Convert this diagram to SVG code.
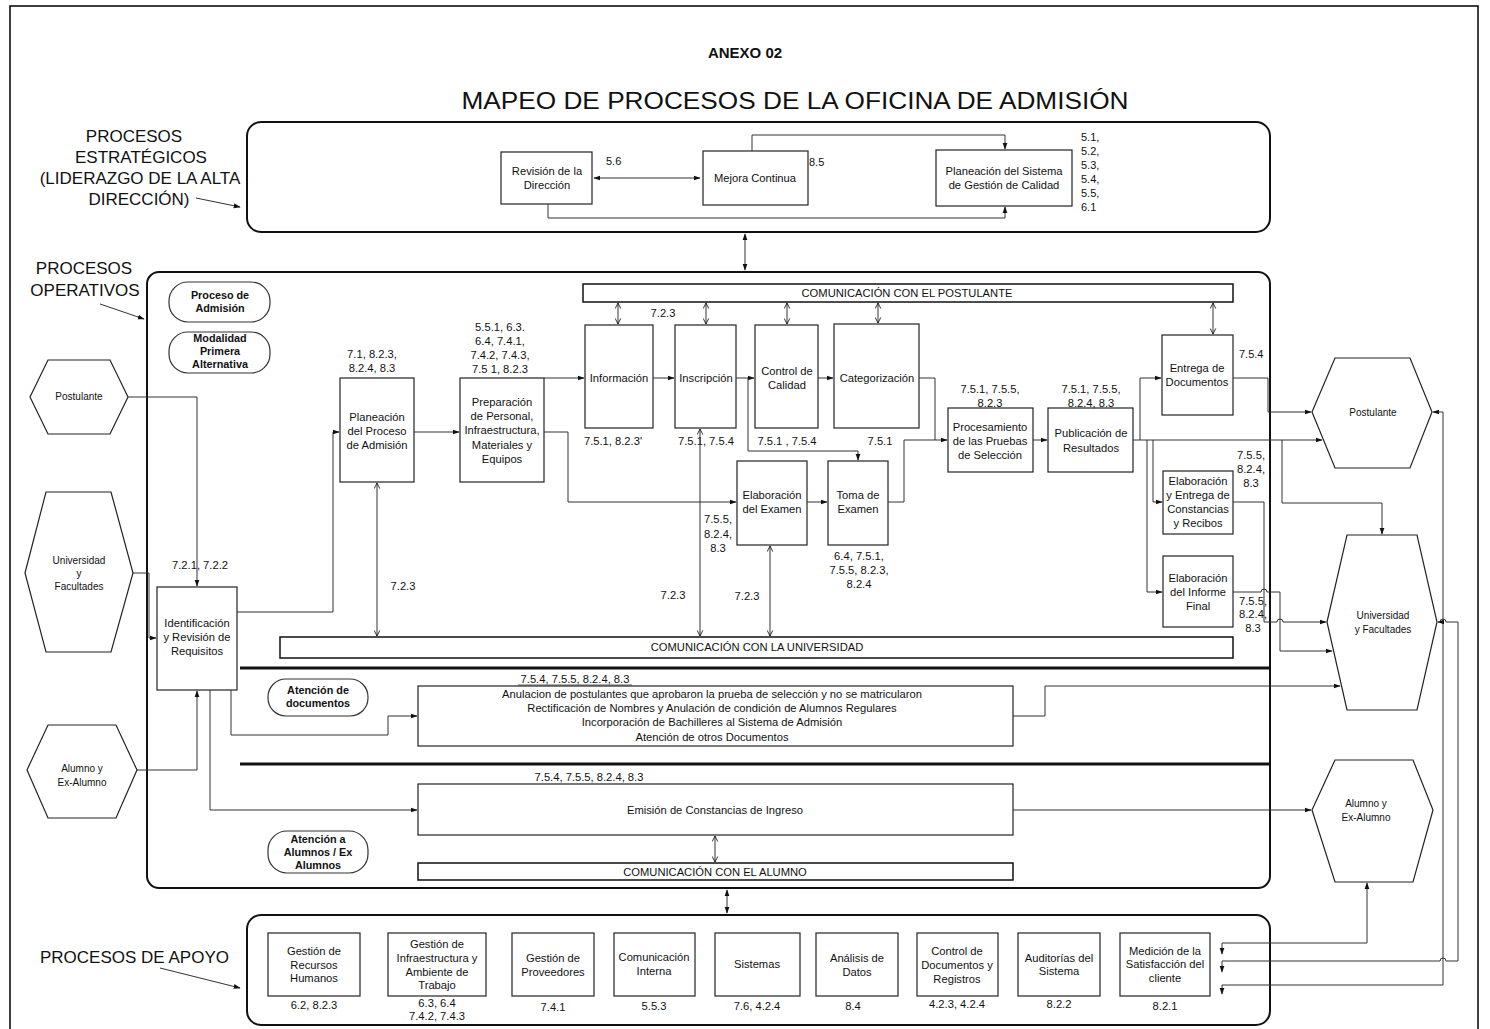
<svg xmlns="http://www.w3.org/2000/svg" width="1490" height="1029" viewBox="0 0 1490 1029">
<defs>
  <marker id="ah" viewBox="0 0 10 10" refX="9" refY="5" markerWidth="7" markerHeight="7" markerUnits="userSpaceOnUse" orient="auto-start-reverse">
    <path d="M0,1.5 L10,5 L0,8.5 z" fill="#111"/>
  </marker>
  <marker id="oh" viewBox="0 0 10 10" refX="9" refY="5" markerWidth="7" markerHeight="7" markerUnits="userSpaceOnUse" orient="auto-start-reverse">
    <path d="M1,1 L9,5 L1,9" fill="none" stroke="#111" stroke-width="1.2"/>
  </marker>
</defs>
<style>
  text{font-family:"Liberation Sans",Arial,sans-serif;fill:#111}
  .t{font-size:11.2px;text-anchor:middle}
  .s{font-size:10px;text-anchor:middle}
  .ls{font-size:11px;text-anchor:start}
  .p{font-size:10.8px;font-weight:bold;text-anchor:middle}
  .h{font-size:17px;text-anchor:middle}
  .box{fill:#fff;stroke:#222;stroke-width:1.2}
  .frame{fill:none;stroke:#111;stroke-width:2}
  .bar{fill:#fff;stroke:#111;stroke-width:1.5}
  .pill{fill:#fff;stroke:#333;stroke-width:1.2}
  .hex{fill:#fff;stroke:#222;stroke-width:1.2}
  .sep{stroke:#111;stroke-width:3}
  .c{fill:none;stroke:#333;stroke-width:1}
  .a{marker-end:url(#ah)}
  .aa{marker-start:url(#ah);marker-end:url(#ah)}
  .oo{marker-start:url(#oh);marker-end:url(#oh)}
</style>

<rect x="0" y="0" width="1490" height="1029" fill="#fff"/>
<rect x="10" y="6" width="1468" height="1040" fill="none" stroke="#000" stroke-width="1.5"/>

<!-- titles -->
<text x="745" y="58" font-size="15" font-weight="bold" text-anchor="middle">ANEXO 02</text>
<text x="795" y="109" font-size="24" text-anchor="middle" textLength="667" lengthAdjust="spacingAndGlyphs">MAPEO DE PROCESOS DE LA OFICINA DE ADMISIÓN</text>

<!-- side headings -->
<g id="titulo-estrategicos">
  <text class="h" x="134" y="142">PROCESOS</text>
  <text class="h" x="141" y="163">ESTRATÉGICOS</text>
  <text class="h" x="140" y="184">(LIDERAZGO DE LA ALTA</text>
  <text class="h" x="139" y="205">DIRECCIÓN)</text>
</g>
<g id="titulo-operativos">
  <text class="h" x="84" y="274">PROCESOS</text>
  <text class="h" x="85" y="296">OPERATIVOS</text>
</g>
<g id="titulo-apoyo">
  <text x="40" y="963" font-size="17">PROCESOS DE APOYO</text>
</g>

<!-- frames -->
<g id="marco-estrategicos"><rect class="frame" x="247" y="122" width="1023" height="110" rx="14"/></g>
<g id="marco-operativos"><rect class="frame" x="147" y="272" width="1123" height="616" rx="12"/></g>
<g id="marco-apoyo"><rect class="frame" x="247" y="915" width="1023" height="110" rx="14"/></g>

<!-- strategic processes -->
<g id="revision-direccion">
  <rect class="box" x="501" y="152" width="91" height="52"/>
  <text class="t" x="547" y="175">Revisión de la</text>
  <text class="t" x="547" y="189">Dirección</text>
  <text class="ls" x="606" y="165">5.6</text>
</g>
<g id="mejora-continua">
  <rect class="box" x="703" y="151" width="105" height="54"/>
  <text class="t" x="755" y="182">Mejora Continua</text>
  <text class="ls" x="809" y="166">8.5</text>
</g>
<g id="planeacion-sgc">
  <rect class="box" x="936" y="150" width="136" height="56"/>
  <text class="t" x="1004" y="175">Planeación del Sistema</text>
  <text class="t" x="1004" y="189">de Gestión de Calidad</text>
  <text class="ls" x="1081" y="141">5.1,</text>
  <text class="ls" x="1081" y="155">5.2,</text>
  <text class="ls" x="1081" y="169">5.3,</text>
  <text class="ls" x="1081" y="183">5.4,</text>
  <text class="ls" x="1081" y="197">5.5,</text>
  <text class="ls" x="1081" y="211">6.1</text>
</g>

<!-- operative: labels -->
<g id="proceso-admision">
  <rect class="pill" x="169" y="282" width="101" height="40" rx="19"/>
  <text class="p" x="220" y="299">Proceso de</text>
  <text class="p" x="220" y="312">Admisión</text>
</g>
<g id="modalidad">
  <rect class="pill" x="169" y="332" width="101" height="41" rx="19"/>
  <text class="p" x="220" y="342">Modalidad</text>
  <text class="p" x="220" y="355">Primera</text>
  <text class="p" x="220" y="368">Alternativa</text>
</g>
<g id="com-postulante">
  <rect class="bar" x="583" y="284" width="650" height="18"/>
  <text class="t" x="907" y="297">COMUNICACIÓN CON EL POSTULANTE</text>
</g>
<g id="com-universidad">
  <rect class="bar" x="280" y="637" width="953" height="21"/>
  <text class="t" x="757" y="651">COMUNICACIÓN CON LA UNIVERSIDAD</text>
</g>
<g id="com-alumno">
  <rect class="bar" x="418" y="863" width="595" height="17"/>
  <text class="t" x="715" y="876">COMUNICACIÓN CON EL ALUMNO</text>
</g>
<line class="sep" x1="240" y1="668" x2="1270" y2="668"/>
<line class="sep" x1="240" y1="764" x2="1270" y2="764"/>

<!-- external parties, left -->
<g id="postulante-in">
  <polygon class="hex" points="30,397 48,360 110,360 128,397 110,434 48,434"/>
  <text class="s" x="79" y="400">Postulante</text>
</g>
<g id="universidad-in">
  <polygon class="hex" points="25,573 46,492 111,492 133,573 111,652 46,652"/>
  <text class="s" x="79" y="564">Universidad</text>
  <text class="s" x="79" y="577">y</text>
  <text class="s" x="79" y="590">Facultades</text>
</g>
<g id="alumno-in">
  <polygon class="hex" points="27,770 48,725 116,725 137,770 116,818 48,818"/>
  <text class="s" x="82" y="772">Alumno y</text>
  <text class="s" x="82" y="786">Ex-Alumno</text>
</g>

<!-- operative processes -->
<g id="identificacion">
  <rect class="box" x="157" y="587" width="80" height="103"/>
  <text class="t" x="197" y="627">Identificación</text>
  <text class="t" x="197" y="641">y Revisión de</text>
  <text class="t" x="197" y="655">Requisitos</text>
  <text class="t" x="200" y="569">7.2.1, 7.2.2</text>
</g>
<g id="planeacion-proceso">
  <rect class="box" x="340" y="378" width="74" height="104"/>
  <text class="t" x="377" y="421">Planeación</text>
  <text class="t" x="377" y="435">del Proceso</text>
  <text class="t" x="377" y="449">de Admisión</text>
  <text class="t" x="372" y="358">7.1, 8.2.3,</text>
  <text class="t" x="372" y="372">8.2.4, 8.3</text>
  <text class="t" x="403" y="590">7.2.3</text>
</g>
<g id="preparacion">
  <rect class="box" x="460" y="378" width="84" height="104"/>
  <text class="t" x="502" y="406">Preparación</text>
  <text class="t" x="502" y="420">de Personal,</text>
  <text class="t" x="502" y="434">Infraestructura,</text>
  <text class="t" x="502" y="449">Materiales y</text>
  <text class="t" x="502" y="463">Equipos</text>
  <text class="t" x="500" y="331">5.5.1, 6.3.</text>
  <text class="t" x="500" y="345">6.4, 7.4.1,</text>
  <text class="t" x="500" y="359">7.4.2, 7.4.3,</text>
  <text class="t" x="500" y="373">7.5 1, 8.2.3</text>
</g>
<g id="informacion">
  <rect class="box" x="585" y="325" width="68" height="103"/>
  <text class="t" x="619" y="382">Información</text>
  <text class="t" x="613" y="445">7.5.1, 8.2.3'</text>
  <text class="t" x="663" y="317">7.2.3</text>
</g>
<g id="inscripcion">
  <rect class="box" x="675" y="325" width="61" height="103"/>
  <text class="t" x="706" y="382">Inscripción</text>
  <text class="t" x="706" y="445">7.5.1, 7.5.4</text>
</g>
<g id="control-calidad">
  <rect class="box" x="755" y="325" width="63" height="103"/>
  <text class="t" x="787" y="375">Control de</text>
  <text class="t" x="787" y="389">Calidad</text>
  <text class="t" x="787" y="445">7.5.1 , 7.5.4</text>
</g>
<g id="categorizacion">
  <rect class="box" x="834" y="324" width="85" height="104" stroke-width="1.6"/>
  <text class="t" x="877" y="382">Categorización</text>
  <text class="t" x="880" y="445">7.5.1</text>
</g>
<g id="elaboracion-examen">
  <rect class="box" x="737" y="461" width="70" height="84"/>
  <text class="t" x="772" y="499">Elaboración</text>
  <text class="t" x="772" y="513">del Examen</text>
  <text class="t" x="718" y="523">7.5.5,</text>
  <text class="t" x="718" y="538">8.2.4,</text>
  <text class="t" x="718" y="552">8.3</text>
  <text class="t" x="673" y="599">7.2.3</text>
  <text class="t" x="747" y="600">7.2.3</text>
</g>
<g id="toma-examen">
  <rect class="box" x="828" y="461" width="60" height="84"/>
  <text class="t" x="858" y="499">Toma de</text>
  <text class="t" x="858" y="513">Examen</text>
  <text class="t" x="859" y="560">6.4, 7.5.1,</text>
  <text class="t" x="859" y="574">7.5.5, 8.2.3,</text>
  <text class="t" x="859" y="588">8.2.4</text>
</g>
<g id="procesamiento">
  <rect class="box" x="948" y="408" width="85" height="64"/>
  <text class="t" x="990" y="431">Procesamiento</text>
  <text class="t" x="990" y="445">de las Pruebas</text>
  <text class="t" x="990" y="459">de Selección</text>
  <text class="t" x="990" y="393">7.5.1, 7.5.5,</text>
  <text class="t" x="990" y="407">8.2.3</text>
</g>
<g id="publicacion">
  <rect class="box" x="1048" y="408" width="85" height="64"/>
  <text class="t" x="1091" y="437">Publicación de</text>
  <text class="t" x="1091" y="452">Resultados</text>
  <text class="t" x="1091" y="393">7.5.1, 7.5.5,</text>
  <text class="t" x="1091" y="407">8.2.4, 8.3</text>
</g>
<g id="entrega-documentos">
  <rect class="box" x="1162" y="335" width="71" height="80"/>
  <text class="t" x="1197" y="372">Entrega de</text>
  <text class="t" x="1197" y="386">Documentos</text>
  <text class="ls" x="1239" y="358">7.5.4</text>
</g>
<g id="constancias-recibos">
  <rect class="box" x="1163" y="471" width="70" height="63"/>
  <text class="t" x="1198" y="485">Elaboración</text>
  <text class="t" x="1198" y="499">y Entrega de</text>
  <text class="t" x="1198" y="513">Constancias</text>
  <text class="t" x="1198" y="527">y Recibos</text>
  <text class="t" x="1251" y="459">7.5.5,</text>
  <text class="t" x="1251" y="473">8.2.4,</text>
  <text class="t" x="1251" y="487">8.3</text>
</g>
<g id="informe-final">
  <rect class="box" x="1163" y="556" width="70" height="71"/>
  <text class="t" x="1198" y="582">Elaboración</text>
  <text class="t" x="1198" y="596">del Informe</text>
  <text class="t" x="1198" y="610">Final</text>
  <text class="t" x="1253" y="605">7.5.5,</text>
  <text class="t" x="1253" y="618">8.2.4,</text>
  <text class="t" x="1253" y="632">8.3</text>
</g>

<g id="atencion-documentos-etiqueta">
  <rect class="pill" x="268" y="679" width="100" height="37" rx="18"/>
  <text class="p" x="318" y="694">Atención de</text>
  <text class="p" x="318" y="707">documentos</text>
</g>
<g id="atencion-documentos">
  <rect class="box" x="418" y="686" width="595" height="60"/>
  <text class="t" x="575" y="683">7.5.4, 7.5.5, 8.2.4, 8.3</text>
  <line x1="518" y1="685" x2="632" y2="685" stroke="#333" stroke-width="0.8"/>
  <text class="t" x="712" y="698">Anulacion de postulantes que aprobaron la prueba de selección y no se matricularon</text>
  <text class="t" x="712" y="712">Rectificación de Nombres y Anulación de condición de Alumnos Regulares</text>
  <text class="t" x="712" y="726">Incorporación de Bachilleres al Sistema de Admisión</text>
  <text class="t" x="712" y="741">Atención de otros Documentos</text>
</g>
<g id="atencion-alumnos-etiqueta">
  <rect class="pill" x="268" y="831" width="100" height="42" rx="19"/>
  <text class="p" x="318" y="843">Atención a</text>
  <text class="p" x="318" y="856">Alumnos / Ex</text>
  <text class="p" x="318" y="869">Alumnos</text>
</g>
<g id="emision-constancias">
  <rect class="box" x="418" y="784" width="595" height="51"/>
  <text class="t" x="589" y="781">7.5.4, 7.5.5, 8.2.4, 8.3</text>
  <text class="t" x="715" y="814">Emisión de Constancias de Ingreso</text>
</g>

<!-- external parties, right -->
<g id="postulante-out">
  <polygon class="hex" points="1312,412 1335,358 1410,358 1432,412 1410,468 1335,468"/>
  <text class="s" x="1373" y="416">Postulante</text>
</g>
<g id="universidad-out">
  <polygon class="hex" points="1327,622 1347,535 1417,535 1437,622 1417,710 1347,710"/>
  <text class="s" x="1383" y="619">Universidad</text>
  <text class="s" x="1383" y="633">y Facultades</text>
</g>
<g id="alumno-out">
  <polygon class="hex" points="1312,810 1335,760 1413,760 1433,810 1413,882 1335,882"/>
  <text class="s" x="1366" y="807">Alumno y</text>
  <text class="s" x="1366" y="821">Ex-Alumno</text>
</g>

<!-- support processes -->
<g id="recursos-humanos">
  <rect class="box" x="268" y="933" width="92" height="63"/>
  <text class="t" x="314" y="955">Gestión de</text>
  <text class="t" x="314" y="969">Recursos</text>
  <text class="t" x="314" y="982">Humanos</text>
  <text class="t" x="314" y="1009">6.2, 8.2.3</text>
</g>
<g id="infraestructura">
  <rect class="box" x="388" y="933" width="98" height="63"/>
  <text class="t" x="437" y="948">Gestión de</text>
  <text class="t" x="437" y="962">Infraestructura y</text>
  <text class="t" x="437" y="976">Ambiente de</text>
  <text class="t" x="437" y="989">Trabajo</text>
  <text class="t" x="437" y="1007">6.3, 6.4</text>
  <text class="t" x="437" y="1020">7.4.2, 7.4.3</text>
</g>
<g id="proveedores">
  <rect class="box" x="512" y="933" width="82" height="63"/>
  <text class="t" x="553" y="962">Gestión de</text>
  <text class="t" x="553" y="976">Proveedores</text>
  <text class="t" x="553" y="1011">7.4.1</text>
</g>
<g id="comunicacion-interna">
  <rect class="box" x="614" y="933" width="81" height="63"/>
  <text class="t" x="654" y="961">Comunicación</text>
  <text class="t" x="654" y="975">Interna</text>
  <text class="t" x="654" y="1010">5.5.3</text>
</g>
<g id="sistemas">
  <rect class="box" x="715" y="933" width="85" height="63"/>
  <text class="t" x="757" y="968">Sistemas</text>
  <text class="t" x="757" y="1010">7.6, 4.2.4</text>
</g>
<g id="analisis-datos">
  <rect class="box" x="816" y="933" width="82" height="63"/>
  <text class="t" x="857" y="962">Análisis de</text>
  <text class="t" x="857" y="976">Datos</text>
  <text class="t" x="853" y="1010">8.4</text>
</g>
<g id="control-documentos">
  <rect class="box" x="917" y="933" width="81" height="63"/>
  <text class="t" x="957" y="955">Control de</text>
  <text class="t" x="957" y="969">Documentos y</text>
  <text class="t" x="957" y="983">Registros</text>
  <text class="t" x="957" y="1008">4.2.3, 4.2.4</text>
</g>
<g id="auditorias">
  <rect class="box" x="1018" y="933" width="82" height="63"/>
  <text class="t" x="1059" y="962">Auditorías del</text>
  <text class="t" x="1059" y="975">Sistema</text>
  <text class="t" x="1059" y="1008">8.2.2</text>
</g>
<g id="satisfaccion-cliente">
  <rect class="box" x="1120" y="933" width="90" height="63"/>
  <text class="t" x="1165" y="955">Medición de la</text>
  <text class="t" x="1165" y="968">Satisfacción del</text>
  <text class="t" x="1165" y="982">cliente</text>
  <text class="t" x="1165" y="1010">8.2.1</text>
</g>

<!-- connectors -->
<g id="conectores">
  <!-- heading pointers -->
  <path class="c a" d="M196,198 L240,207"/>
  <path class="c a" d="M100,304 L144,319"/>
  <path class="c a" d="M160,968 L240,988"/>

  <!-- strategic -->
  <path class="c aa" d="M594,178 H700"/>
  <path class="c a" d="M752,151 V135 H1005 V149"/>
  <path class="c a" d="M548,204 V218 H1005 V207"/>
  <path class="c aa" d="M745,234 V270"/>
  <path class="c aa" d="M727,890 V913"/>

  <!-- inputs to identification -->
  <path class="c a" d="M128,397 H197 V586"/>
  <path class="c a" d="M133,573 H149 V638 H156"/>
  <path class="c a" d="M137,770 H197 V691"/>

  <!-- admission flow -->
  <path class="c a" d="M237,612 H333 V432 H339"/>
  <path class="c a" d="M414,432 H459"/>
  <path class="c a" d="M544,378 H584"/>
  <path class="c a" d="M653,378 H674"/>
  <path class="c a" d="M736,378 H754"/>
  <path class="c a" d="M818,378 H833"/>
  <path class="c a" d="M748,378 V451 H858 V460"/>
  <path class="c a" d="M544,432 H568 V502 H736"/>
  <path class="c a" d="M807,502 H827"/>
  <path class="c a" d="M919,378 H935 V440 H947"/>
  <path class="c" d="M888,502 H904 V440 H935"/>
  <path class="c a" d="M1033,440 H1047"/>
  <path class="c a" d="M1133,440 H1322"/>
  <path class="c a" d="M1140,440 V378 H1161"/>
  <path class="c a" d="M1153,440 V502 H1162"/>
  <path class="c a" d="M1147,440 V592 H1162"/>
  <path class="c a" d="M1233,378 H1268 V412 H1311"/>
  <path class="c a" d="M1233,502 H1264 V622 H1277 A3,3 0 0 1 1283,622 H1326"/>
  <path class="c a" d="M1233,592 H1261 A3,3 0 0 1 1267,592 H1280 V651 H1332"/>
  <path class="c a" d="M1282,440 V503 H1382 V534"/>

  <!-- communication links -->
  <path class="c oo" d="M618,303 V324"/>
  <path class="c oo" d="M706,303 V324"/>
  <path class="c oo" d="M787,303 V324"/>
  <path class="c oo" d="M878,303 V323"/>
  <path class="c oo" d="M1213,303 V334"/>
  <path class="c oo" d="M377,483 V636"/>
  <path class="c oo" d="M700,429 V636"/>
  <path class="c oo" d="M770,546 V636"/>
  <path class="c oo" d="M715,836 V862"/>

  <!-- document handling and student service -->
  <path class="c a" d="M231,690 V735 H388 V716 H417"/>
  <path class="c a" d="M210,690 V810 H417"/>
  <path class="c a" d="M1013,716 H1045 V686 H1340"/>
  <path class="c a" d="M1013,810 H1311"/>

  <!-- customer satisfaction feedback -->
  <path class="c aa" d="M1367,883 V943 H1222 V954"/>
  <path class="c aa" d="M1433,412 H1443 V985 H1222 V994"/>
  <path class="c aa" d="M1438,622 H1440 A3,3 0 0 1 1446,622 H1458 V961 H1446 A3,3 0 0 0 1440,961 H1222 V972"/>
</g>
</svg>
